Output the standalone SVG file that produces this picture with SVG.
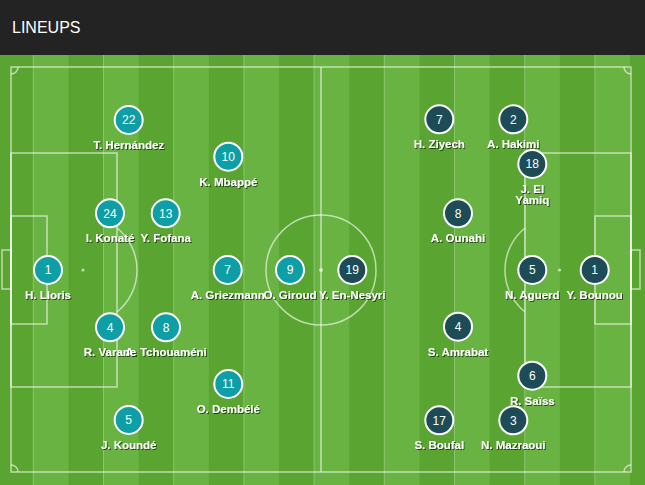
<svg xmlns="http://www.w3.org/2000/svg" width="645" height="485" viewBox="0 0 645 485">
<defs>
<pattern id="stripes" x="-1.8" y="0" width="70.2" height="485" patternUnits="userSpaceOnUse">
<rect x="0" y="0" width="35.1" height="485" fill="#5aa532"/>
<rect x="35.1" y="0" width="35.1" height="485" fill="#69b343"/>
</pattern>
<filter id="ts" x="-20%" y="-60%" width="140%" height="220%">
<feDropShadow dx="1" dy="1" stdDeviation="0.7" flood-color="#000" flood-opacity="0.6"/>
</filter>
</defs>
<style>
.line{fill:none;stroke:#ffffff;stroke-opacity:0.6;stroke-width:1.5}
.spot{fill:#ffffff;fill-opacity:0.6}
.fra{fill:#0d9ea6;stroke:#ffffff;stroke-width:2}
.mar{fill:#1d4c56;stroke:#ffffff;stroke-width:2}
.num{font-family:"Liberation Sans",Arial,sans-serif;font-size:12px;fill:#ffffff;text-anchor:middle}
.lbl{font-family:"Liberation Sans",Arial,sans-serif;font-size:11.5px;font-weight:bold;fill:#ffffff;text-anchor:middle;filter:url(#ts)}
.title{font-family:"Liberation Sans",Arial,sans-serif;font-size:16px;fill:#ffffff}
</style>
<rect x="0" y="0" width="645" height="55" fill="#232323"/>
<text class="title" x="12" y="33">LINEUPS</text>
<rect x="0" y="55" width="645" height="430" fill="url(#stripes)"/>
<g id="pitch">
<rect class="line" x="11" y="67" width="620" height="405"/>
<line class="line" x1="321" y1="67" x2="321" y2="472"/>
<circle class="line" cx="321" cy="270" r="55"/>
<circle class="spot" cx="321" cy="270" r="2"/>
<rect class="line" x="11" y="153" width="106" height="234"/>
<rect class="line" x="11" y="216" width="36" height="108"/>
<rect class="line" x="2" y="250" width="9" height="39"/>
<circle class="spot" cx="83" cy="270" r="1.6"/>
<path class="line" d="M117,228 A54,54 0 0 1 117,312"/>
<rect class="line" x="525" y="153" width="106" height="234"/>
<rect class="line" x="595" y="216" width="36" height="108"/>
<rect class="line" x="631" y="250" width="9" height="39"/>
<circle class="spot" cx="559.5" cy="270" r="1.6"/>
<path class="line" d="M525,228 A54,54 0 0 0 525,312"/>
<path class="line" d="M11,74 A7,7 0 0 0 18,67"/>
<path class="line" d="M624,67 A7,7 0 0 0 631,74"/>
<path class="line" d="M631,465 A7,7 0 0 0 624,472"/>
<path class="line" d="M18,472 A7,7 0 0 0 11,465"/>
</g>
<g id="france">
<g id="fra-1"><circle class="fra" cx="48" cy="270" r="14"/><text class="num" x="48" y="274.3">1</text><text class="lbl" x="48" y="299">H. Lloris</text></g>
<g id="fra-22"><circle class="fra" cx="128.7" cy="120" r="14"/><text class="num" x="128.7" y="124.3">22</text><text class="lbl" x="128.7" y="149">T. Hernández</text></g>
<g id="fra-24"><circle class="fra" cx="110" cy="213.3" r="14"/><text class="num" x="110" y="217.6">24</text><text class="lbl" x="110" y="242.3">I. Konaté</text></g>
<g id="fra-13"><circle class="fra" cx="165.7" cy="213.3" r="14"/><text class="num" x="165.7" y="217.6">13</text><text class="lbl" x="165.7" y="242.3">Y. Fofana</text></g>
<g id="fra-8"><circle class="fra" cx="166" cy="327.3" r="14"/><text class="num" x="166" y="331.6">8</text><text class="lbl" x="166" y="356.3">A. Tchouaméni</text></g>
<g id="fra-4"><circle class="fra" cx="110" cy="327.3" r="14"/><text class="num" x="110" y="331.6">4</text><text class="lbl" x="110" y="356.3">R. Varane</text></g>
<g id="fra-5"><circle class="fra" cx="128.7" cy="420" r="14"/><text class="num" x="128.7" y="424.3">5</text><text class="lbl" x="128.7" y="449">J. Koundé</text></g>
<g id="fra-10"><circle class="fra" cx="228.3" cy="156.7" r="14"/><text class="num" x="228.3" y="161">10</text><text class="lbl" x="228.3" y="185.7">K. Mbappé</text></g>
<g id="fra-7"><circle class="fra" cx="227.7" cy="270" r="14"/><text class="num" x="227.7" y="274.3">7</text><text class="lbl" x="227.7" y="299">A. Griezmann</text></g>
<g id="fra-11"><circle class="fra" cx="228.3" cy="384" r="14"/><text class="num" x="228.3" y="388.3">11</text><text class="lbl" x="228.3" y="413">O. Dembélé</text></g>
<g id="fra-9"><circle class="fra" cx="290" cy="270" r="14"/><text class="num" x="290" y="274.3">9</text><text class="lbl" x="290" y="299">O. Giroud</text></g>
</g>
<g id="morocco">
<g id="mar-1"><circle class="mar" cx="594.7" cy="270" r="14"/><text class="num" x="594.7" y="274.3">1</text><text class="lbl" x="594.7" y="299">Y. Bounou</text></g>
<g id="mar-2"><circle class="mar" cx="513.3" cy="119.3" r="14"/><text class="num" x="513.3" y="123.6">2</text><text class="lbl" x="513.3" y="148.3">A. Hakimi</text></g>
<g id="mar-18"><circle class="mar" cx="532.3" cy="164" r="14"/><text class="num" x="532.3" y="168.3">18</text><text class="lbl" x="532.3" y="193.3">J. El</text><text class="lbl" x="532.3" y="204.3">Yamiq</text></g>
<g id="mar-5"><circle class="mar" cx="532.3" cy="270" r="14"/><text class="num" x="532.3" y="274.3">5</text><text class="lbl" x="532.3" y="299">N. Aguerd</text></g>
<g id="mar-6"><circle class="mar" cx="532.3" cy="375.7" r="14"/><text class="num" x="532.3" y="380">6</text><text class="lbl" x="532.3" y="404.5">R. Saïss</text></g>
<g id="mar-3"><circle class="mar" cx="513.3" cy="420.3" r="14"/><text class="num" x="513.3" y="424.6">3</text><text class="lbl" x="513.3" y="449.3">N. Mazraoui</text></g>
<g id="mar-8"><circle class="mar" cx="458" cy="213.3" r="14"/><text class="num" x="458" y="217.6">8</text><text class="lbl" x="458" y="242.3">A. Ounahi</text></g>
<g id="mar-4"><circle class="mar" cx="458" cy="326.7" r="14"/><text class="num" x="458" y="331">4</text><text class="lbl" x="458" y="355.7">S. Amrabat</text></g>
<g id="mar-7"><circle class="mar" cx="439.3" cy="119.3" r="14"/><text class="num" x="439.3" y="123.6">7</text><text class="lbl" x="439.3" y="148.3">H. Ziyech</text></g>
<g id="mar-17"><circle class="mar" cx="439.3" cy="420.3" r="14"/><text class="num" x="439.3" y="424.6">17</text><text class="lbl" x="439.3" y="449.3">S. Boufal</text></g>
<g id="mar-19"><circle class="mar" cx="352.3" cy="270" r="14"/><text class="num" x="352.3" y="274.3">19</text><text class="lbl" x="352.3" y="299">Y. En-Nesyri</text></g>
</g>
</svg>
